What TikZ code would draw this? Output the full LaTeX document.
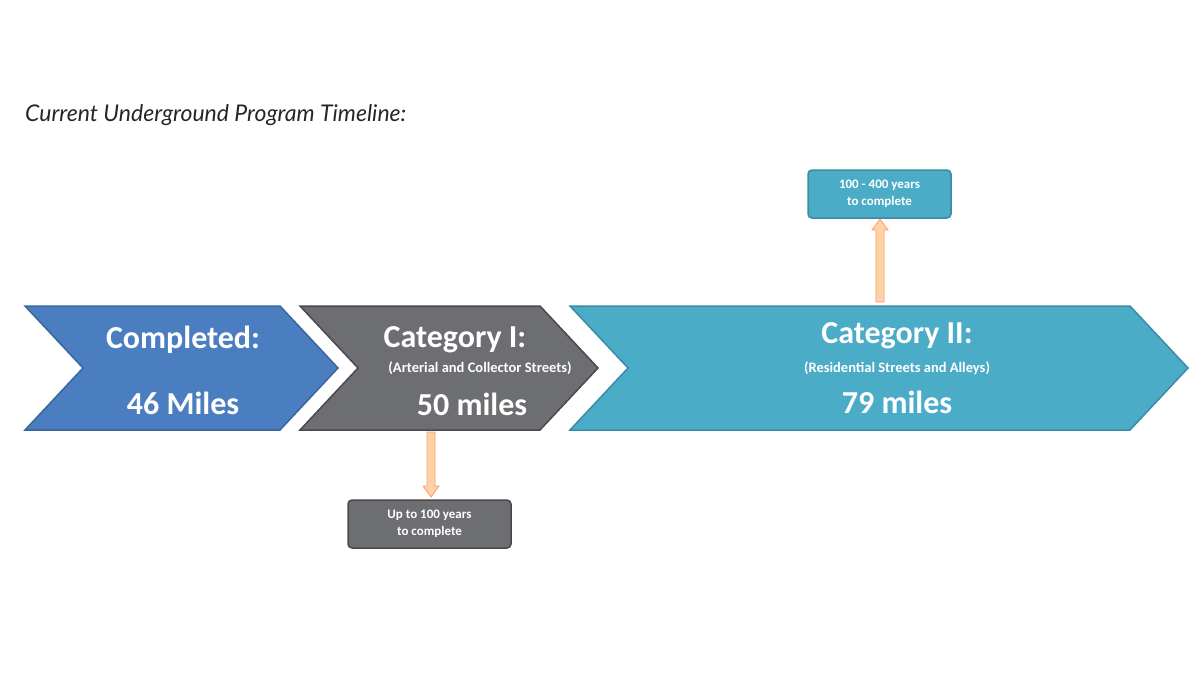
\documentclass[tikz,border=0pt]{standalone}
\usepackage{fontspec}
\setmainfont{Carlito}
\newfontfamily\titlefont{Lato}
\begin{document}
\begin{tikzpicture}[x=1pt,y=-1pt,
  lab/.style={text=white,font=\bfseries,inner sep=0pt},
  note/.style={rounded corners=4pt,line width=1.5pt,text=white,font=\bfseries\fontsize{13}{17}\selectfont,align=center},
  orarrow/.style={fill=orange!35,draw=orange!70!red!60,line width=0.8pt}]
\useasboundingbox (0,0) rectangle (1200,675);
\definecolor{cblue}{HTML}{4A7EC0}\definecolor{cbluel}{HTML}{3A669C}
\definecolor{cgray}{HTML}{6D6E71}\definecolor{cgrayl}{HTML}{4A4A4C}
\definecolor{cteal}{HTML}{4AACC6}\definecolor{ctealL}{HTML}{3A8CA6}
\node[anchor=west,inner sep=0pt,font=\titlefont\itshape\fontsize{23}{26}\selectfont,text=black!85] (title) at (25,115) {Current Underground Program Timeline:};
\draw[fill=cblue,draw=cbluel,line width=1.5pt] (25,306)--(280,306)--(338,368)--(280,430)--(25,430)--(83,368)--cycle;
\draw[fill=cgray,draw=cgrayl,line width=1.5pt] (300,306)--(540,306)--(598,368)--(540,430)--(300,430)--(358,368)--cycle;
\draw[fill=cteal,draw=ctealL,line width=1.5pt] (570,306)--(1130,306)--(1188,368)--(1130,430)--(570,430)--(628,368)--cycle;
\node[lab,font=\bfseries\fontsize{32}{36}\selectfont] (c1) at (183,340) {Completed:};
\node[lab,font=\bfseries\fontsize{32}{36}\selectfont] (m1) at (183,403) {46 Miles};
\node[lab,font=\bfseries\fontsize{32}{36}\selectfont] (c2) at (455,340) {Category I:};
\node[lab,font=\bfseries\fontsize{14.5}{16}\selectfont] (s2) at (480,368) {(Arterial and Collector Streets)};
\node[lab,font=\bfseries\fontsize{32}{36}\selectfont] (m2) at (472,404) {50 miles};
\node[lab,font=\bfseries\fontsize{32}{36}\selectfont] (c3) at (897,336) {Category II:};
\node[lab,font=\bfseries\fontsize{14.5}{16}\selectfont] (s3) at (897,368) {(Residential Streets and Alleys)};
\node[lab,font=\bfseries\fontsize{32}{36}\selectfont] (m3) at (897,402) {79 miles};
\node[note,fill=cteal,draw=ctealL,minimum width=143pt,minimum height=48pt] (n3) at (879.5,194) {100 - 400 years\\to complete};
\node[note,fill=cgray,draw=cgrayl,minimum width=163pt,minimum height=48pt] (n2) at (429.5,524) {Up to 100 years\\to complete};
\draw[orarrow] (876,302)--(876,230)--(872,230)--(880,219)--(888,230)--(884,230)--(884,302)--cycle;
\draw[orarrow] (427,432)--(427,486)--(423,486)--(431,497)--(439,486)--(435,486)--(435,432)--cycle;
\end{tikzpicture}
\end{document}
